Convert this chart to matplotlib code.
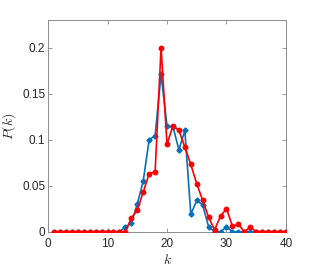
import matplotlib
matplotlib.use("Agg")
import matplotlib.pyplot as plt
import numpy as np

k = list(range(1, 41))
p_blue = [0]*12 + [0.005, 0.009, 0.030, 0.055, 0.100, 0.104, 0.171, 0.115, 0.114, 0.089,
                   0.110, 0.019, 0.034, 0.029, 0.005, 0.0, 0.0, 0.005] + [0]*10
p_red = [0]*13 + [0.0145, 0.0235, 0.043, 0.063, 0.065, 0.200, 0.095, 0.115, 0.110, 0.092,
                  0.073, 0.052, 0.034, 0.0156, 0.002, 0.017, 0.025, 0.006, 0.008, 0.0, 0.005] + [0]*6

x_ticks = [0, 10, 20, 30, 40]
y_ticks = [0, 0.05, 0.1, 0.15, 0.2]
y_tick_labels = ["0", "0.05", "0.1", "0.15", "0.2"]

plt.rcParams['mathtext.fontset'] = 'cm'
plt.rcParams['font.family'] = ['Liberation Sans', 'DejaVu Sans']

fig = plt.figure(figsize=(3.16, 2.70), dpi=100)
ax = fig.add_axes([0.152, 0.142, 0.753, 0.784])

blue = (0, 0.447, 0.741)
ax.plot(k, p_blue, '-', color=blue, lw=1.2, marker='D', ms=2.6, mfc=blue, mec=blue, zorder=3)
ax.plot(k, p_red, '-', color='red', lw=1.2, marker='o', ms=3.2, mfc='red', mec='red', zorder=4)

ax.set_xlim(0, 40)
ax.set_ylim(0, 0.23)
ax.set_xticks(x_ticks)
ax.set_yticks(y_ticks)
ax.set_yticklabels(y_tick_labels)
ax.tick_params(direction='in', length=3, width=0.5, colors='0.45', labelcolor='#262626',
               labelsize=8.5, top=True, right=True, pad=2)
ax.tick_params(axis='x', pad=4.5)
for s in ax.spines.values():
    s.set_color('0.55')
    s.set_linewidth(0.7)

ax.set_xlabel('$k$', fontsize=10, labelpad=2, color='#262626')
ax.set_ylabel('$P(k)$', fontsize=10, labelpad=3, color='#262626')

fig.savefig('out.png', dpi=100)
